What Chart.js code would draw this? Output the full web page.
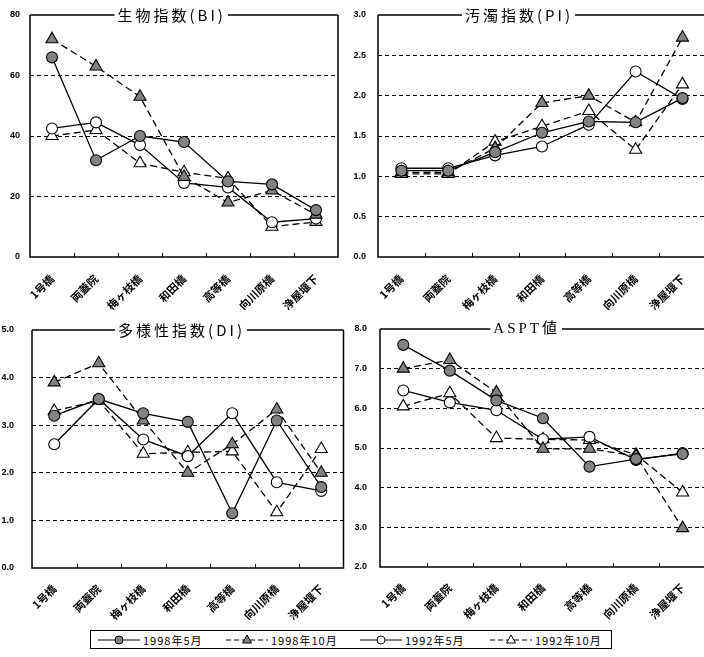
<!DOCTYPE html>
<html><head><meta charset="utf-8">
<script src="https://cdn.jsdelivr.net/npm/chart.js@4/dist/chart.umd.min.js"></script>
<style>
html,body{margin:0;padding:0;background:#fff;overflow:hidden;width:704px;height:657px;position:relative}
canvas{position:absolute;display:block}
#legend{position:absolute;left:90px;top:630px;width:522px;height:19px;border:1.5px solid #000;box-sizing:border-box;font-family:"Noto Sans CJK JP",sans-serif;font-size:11px;color:#000}
.li{position:absolute;top:1px;height:16px;display:flex;align-items:center;white-space:nowrap}
.li span{letter-spacing:1px;margin-left:2px}
</style></head><body>
<canvas id="c1" width="352" height="310" style="left:0;top:0"></canvas>
<canvas id="c2" width="362" height="310" style="left:352px;top:0"></canvas>
<canvas id="c3" width="352" height="310" style="left:0;top:310px"></canvas>
<canvas id="c4" width="362" height="310" style="left:352px;top:310px"></canvas>
<div id="legend"></div>
<script>
// ---- data ----
const categories = ['1号橋','両蓋院','梅ヶ枝橋','和田橋','高等橋','向川原橋','浄屋堰下'];
const seriesNames = ['1998年5月','1998年10月','1992年5月','1992年10月'];

const bi_1998_5  = [66, 32, 40, 38, 25, 24, 15.5];
const bi_1998_10 = [72, 63, 53, 26.5, 18, 22, 14];
const bi_1992_5  = [42.5, 44.5, 37, 24.5, 23, 11.5, 12.7];
const bi_1992_10 = [40, 42, 31, 28, 26, 10, 11.6];

const pi_1998_5  = [1.07, 1.07, 1.30, 1.54, 1.68, 1.67, 1.97];
const pi_1998_10 = [1.05, 1.05, 1.35, 1.91, 2.00, 1.67, 2.72];
const pi_1992_5  = [1.10, 1.10, 1.26, 1.37, 1.64, 2.30, 1.96];
const pi_1992_10 = [1.03, 1.03, 1.43, 1.62, 1.81, 1.33, 2.14];

const di_1998_5  = [3.2, 3.55, 3.25, 3.07, 1.15, 3.1, 1.7];
const di_1998_10 = [3.9, 4.3, 3.1, 2.0, 2.6, 3.33, 2.0];
const di_1992_5  = [2.6, 3.55, 2.7, 2.35, 3.25, 1.8, 1.62];
const di_1992_10 = [3.3, 3.52, 2.4, 2.43, 2.45, 1.17, 2.5];

const aspt_1998_5  = [7.6, 6.95, 6.2, 5.75, 4.53, 4.72, 4.85];
const aspt_1998_10 = [7.0, 7.22, 6.4, 4.98, 4.98, 4.8, 2.98];
const aspt_1992_5  = [6.45, 6.15, 5.95, 5.22, 5.28, 4.7, 4.87];
const aspt_1992_10 = [6.05, 6.38, 5.25, 5.22, 5.2, 4.83, 3.88];

const biTicks = [0, 80, 20];
const piTicks = [0, 3, 0.5];
const diTicks = [0, 5, 1];
const asptTicks = [2, 8, 1];

// ---- styles ----
const GRAY = '#828282';
const seriesStyles = [
  {shape:'circle', fill:GRAY, dash:[], r:5.5},
  {shape:'triangle', fill:GRAY, dash:[7,4], r:7},
  {shape:'circle', fill:'#fff', dash:[], r:5.5},
  {shape:'triangle', fill:'#fff', dash:[7,4], r:7}
];

const framePlugin = {
  id:'frame',
  beforeDatasetsDraw(chart, args, opts){
    const a = chart.chartArea, ctx = chart.ctx;
    ctx.save();
    ctx.strokeStyle = '#000';
    ctx.lineWidth = 1.5;
    ctx.setLineDash([]);
    ctx.beginPath();
    ctx.moveTo(a.left, a.top); ctx.lineTo(a.left, a.bottom); ctx.lineTo(a.right, a.bottom); ctx.lineTo(a.right, a.top);
    ctx.stroke();
    ctx.lineWidth = 1;
    const n = chart.data.labels.length;
    ctx.beginPath();
    for (let i = 1; i < n; i++){
      const x = Math.round(a.left + i * a.width / n) + 0.5;
      ctx.moveTo(x, a.bottom); ctx.lineTo(x, a.bottom - 4);
    }
    ctx.stroke();
    ctx.font = opts.font;
    ctx.letterSpacing = opts.spacing + 'px';
    const w = ctx.measureText(opts.text).width;
    const cx = a.left + opts.frac * a.width;
    const x0 = cx - w / 2, x1 = cx + w / 2;
    ctx.lineWidth = 1.5;
    ctx.beginPath();
    ctx.moveTo(a.left, a.top); ctx.lineTo(x0 - 3, a.top);
    ctx.moveTo(x1 + 2, a.top); ctx.lineTo(a.right, a.top);
    ctx.stroke();
    ctx.fillStyle = '#000';
    ctx.textAlign = 'left';
    ctx.textBaseline = 'middle';
    ctx.fillText(opts.text, x0, a.top);
    ctx.restore();
  }
};

function makeChart(id, title, frac, tickDef, decimals, values, lay){
  const datasets = values.map((vals, i) => {
    const s = seriesStyles[i];
    return {
      label: seriesNames[i], data: vals,
      borderColor:'#000', borderWidth:1.3, borderDash:s.dash,
      pointStyle:s.shape, pointRadius:s.r, pointBackgroundColor:s.fill,
      pointBorderColor:'#000', pointBorderWidth:1.1, tension:0, fill:false
    };
  });
  return new Chart(document.getElementById(id), {
    type:'line',
    data:{labels:categories, datasets},
    plugins:[framePlugin],
    options:{
      responsive:false, animation:false, events:[],
      layout:{padding:{left:0, right:lay.padR, top:lay.padT, bottom:0}},
      plugins:{legend:{display:false}, tooltip:{enabled:false},
        frame:{text:title, frac, font:lay.titleFont, spacing:lay.titleSpacing}},
      scales:{
        x:{type:'category', offset:true,
          grid:{display:false, drawTicks:false}, border:{display:false},
          ticks:{autoSkip:false, maxRotation:45, minRotation:45, padding:lay.xPad, color:'#000',
            font:{family:'"Noto Sans CJK JP"', size:11, weight:'bold'}},
          afterFit(s){ s.height = lay.xH; s.paddingLeft = 0; s.paddingRight = 0; }
        },
        y:{min:tickDef[0], max:tickDef[1],
          grid:{drawTicks:false, lineWidth:1,
            color:c => (c.tick.value <= tickDef[0] + 1e-9 || c.tick.value >= tickDef[1] - 1e-9) ? 'rgba(0,0,0,0)' : '#000'},
          border:{display:false, dash:[4,3]},
          ticks:{stepSize:tickDef[2], padding:lay.yPad, color:'#000',
            font:{family:'"Liberation Sans"', size:9, weight:'bold'},
            callback:v => decimals ? Number(v).toFixed(1) : String(v)},
          afterFit(s){ s.width = lay.yW; s.paddingTop = 0; s.paddingBottom = 0; }
        }
      }
    }
  });
}

const cjkTitle = '15px "Noto Sans CJK JP"';
makeChart('c1', '生物指数(BI)', 0.46, biTicks, false,
  [bi_1998_5, bi_1998_10, bi_1992_5, bi_1992_10],
  {yW:30, padR:14, padT:15, xH:53, yPad:10, xPad:15, titleFont:cjkTitle, titleSpacing:3});
makeChart('c2', '汚濁指数(PI)', 0.43, piTicks, true,
  [pi_1998_5, pi_1998_10, pi_1992_5, pi_1992_10],
  {yW:26, padR:6, padT:15, xH:53, yPad:12, xPad:15, titleFont:cjkTitle, titleSpacing:3});
makeChart('c3', '多様性指数(DI)', 0.48, diTicks, true,
  [di_1998_5, di_1998_10, di_1992_5, di_1992_10],
  {yW:32, padR:8.5, padT:20, xH:52, yPad:18, xPad:14, titleFont:cjkTitle, titleSpacing:3});
makeChart('c4', 'ASPT値', 0.45, asptTicks, true,
  [aspt_1998_5, aspt_1998_10, aspt_1992_5, aspt_1992_10],
  {yW:28, padR:5, padT:19, xH:53, yPad:13, xPad:14, titleFont:'15px "Liberation Serif","Noto Sans CJK JP"', titleSpacing:3});

// ---- legend ----
const legendLefts = [6, 134, 268, 398];
const leg = document.getElementById('legend');
seriesNames.forEach((name, i) => {
  const s = seriesStyles[i];
  const d = document.createElement('div');
  d.className = 'li';
  d.style.left = legendLefts[i] + 'px';
  const dash = s.dash.length ? 'stroke-dasharray="5,3"' : '';
  const marker = s.shape === 'circle'
    ? `<circle cx="22" cy="8" r="4" fill="${s.fill}" stroke="#000" stroke-width="1"/>`
    : `<polygon points="22,3 26.5,11 17.5,11" fill="${s.fill}" stroke="#000" stroke-width="1"/>`;
  d.innerHTML = `<svg width="44" height="16"><line x1="1" y1="8" x2="43" y2="8" stroke="#000" stroke-width="1" ${dash}/>${marker}</svg><span>${name}</span>`;
  leg.appendChild(d);
});
</script>
</body></html>
